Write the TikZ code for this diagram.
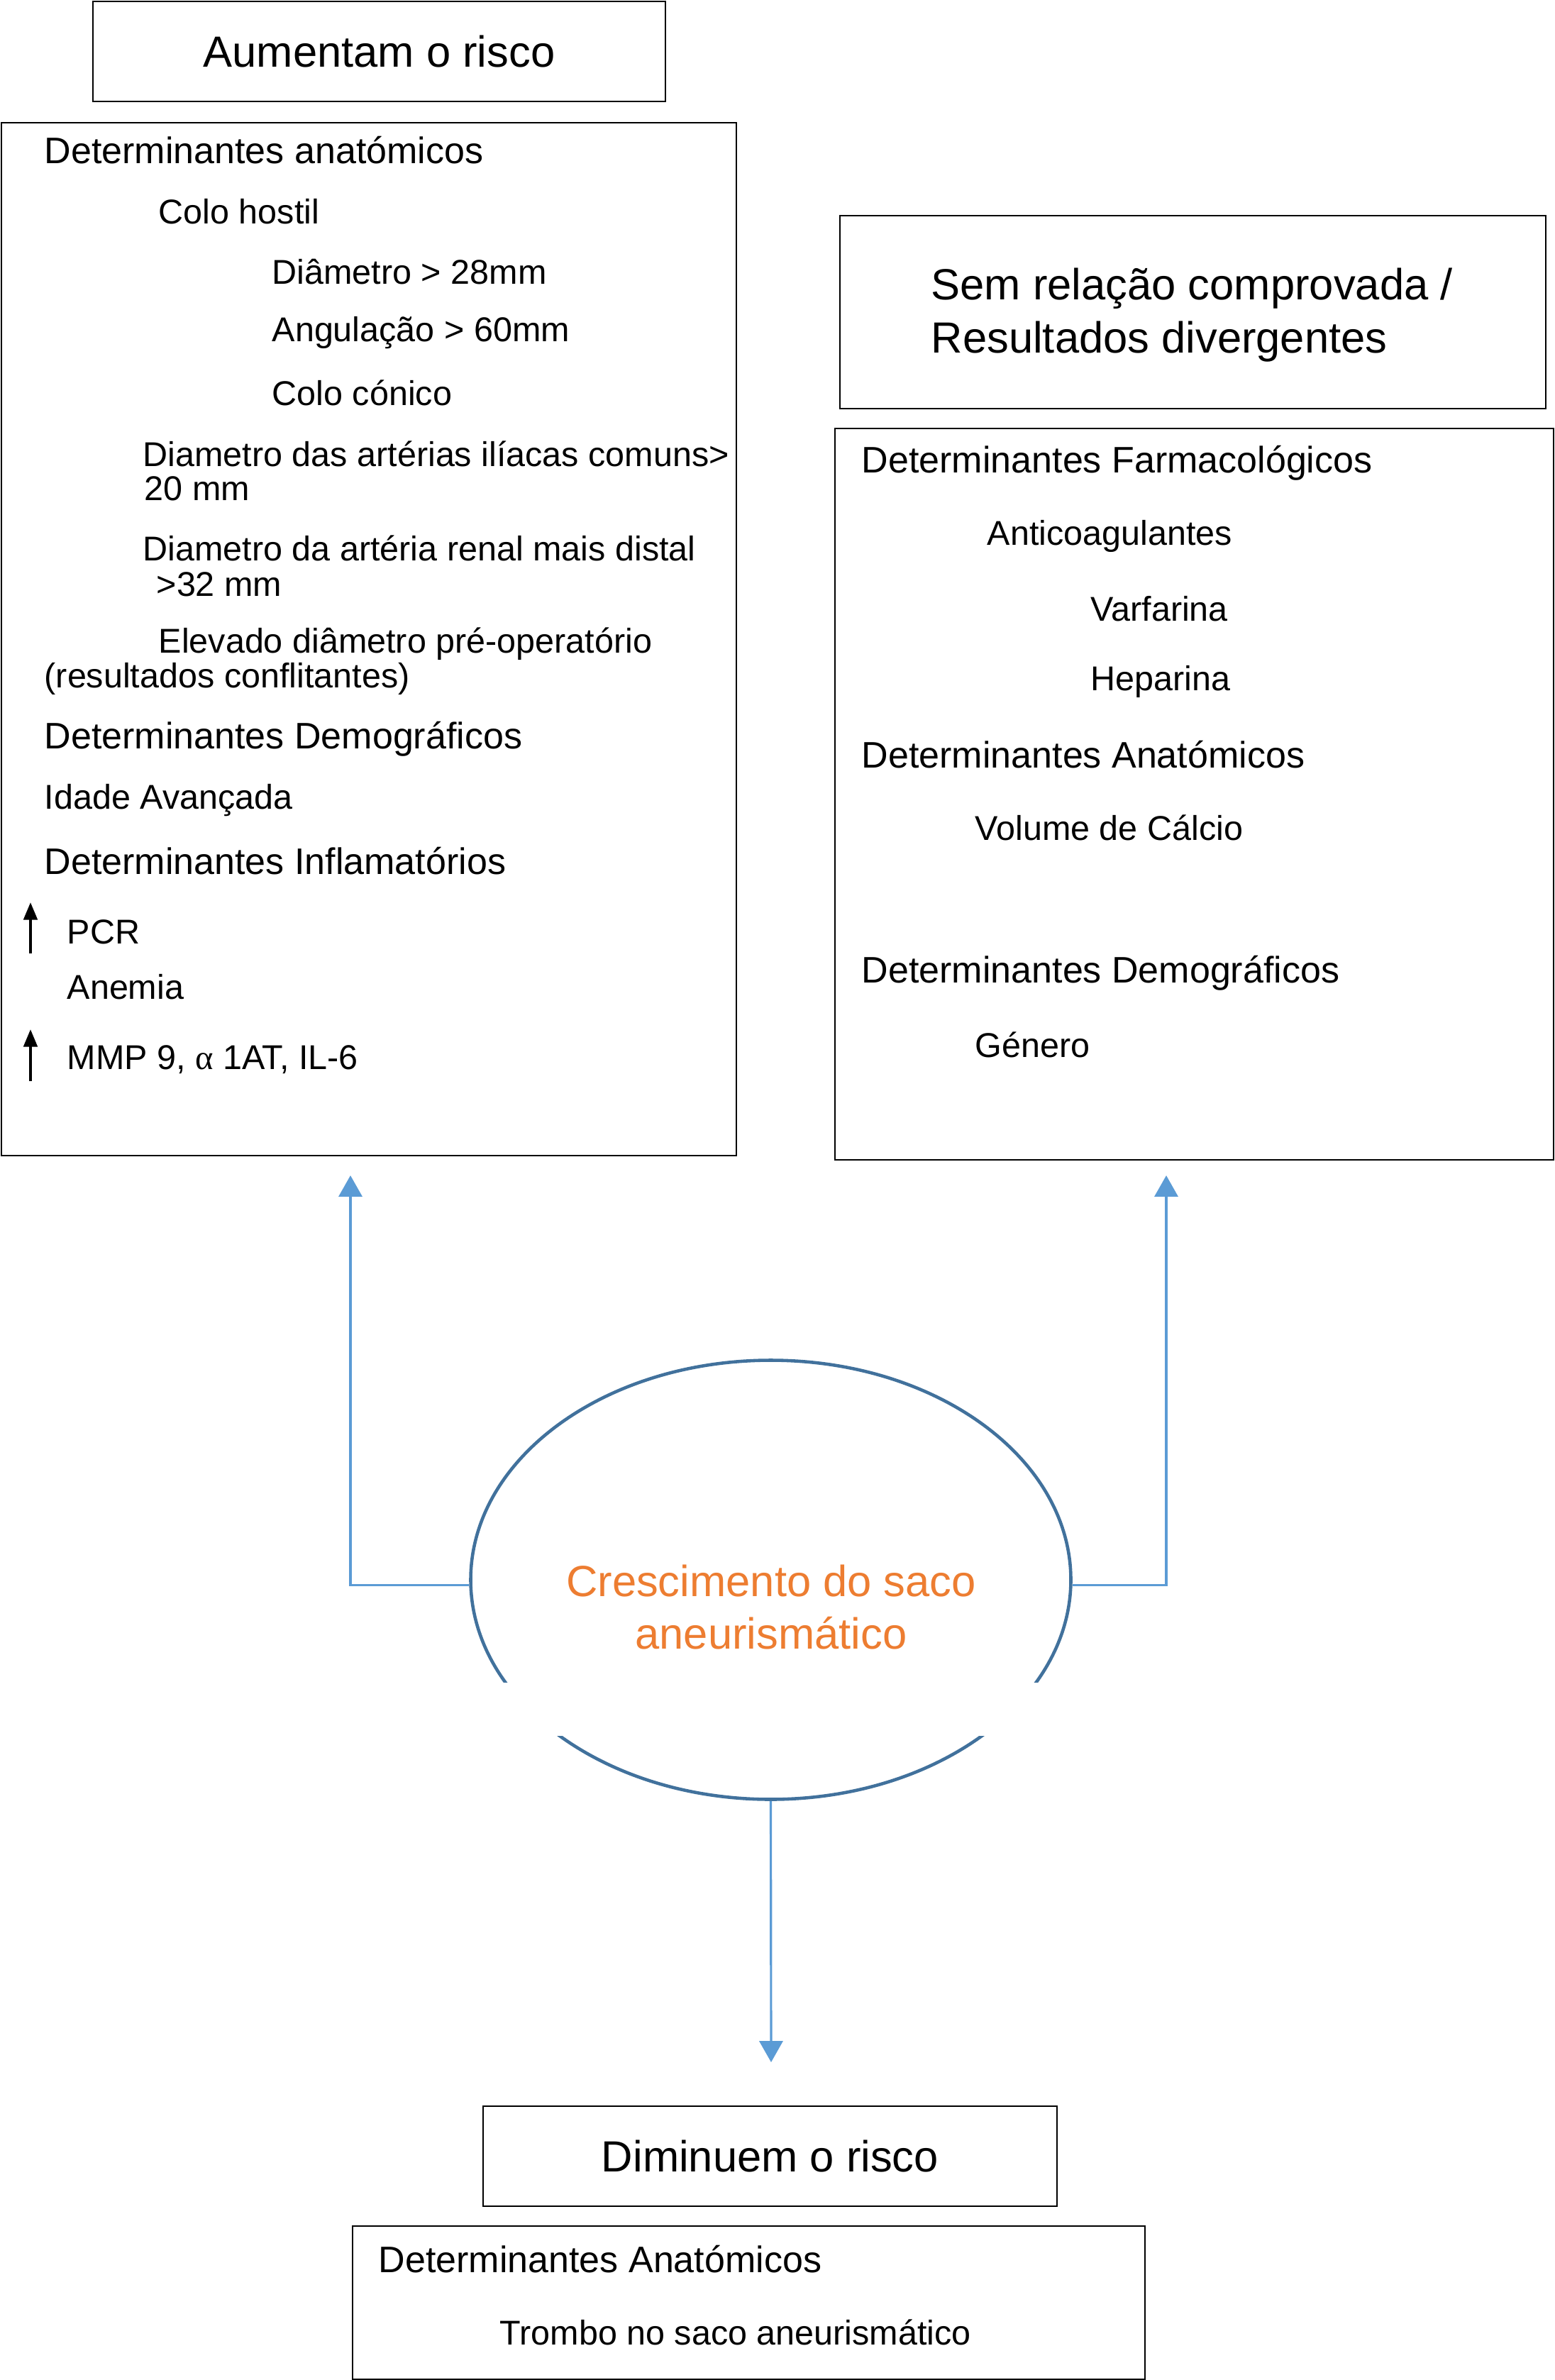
\documentclass[tikz,border=0pt]{standalone}
\usepackage{fontspec}
\setmainfont{Liberation Sans}
\newfontfamily\greekfont{Liberation Serif}
\usepackage{tikz}
\usetikzlibrary{arrows.meta}
\usetikzlibrary{shapes.geometric}
\definecolor{linkblue}{HTML}{5B9BD5}
\definecolor{sacblue}{HTML}{41719C}
\definecolor{sacorange}{HTML}{ED7D31}
\newcommand{\headsize}{\fontsize{14.8}{17}\selectfont}
\newcommand{\entrysize}{\fontsize{13.8}{16}\selectfont}
\newcommand{\titlesize}{\fontsize{17.5}{21.3}\selectfont}
\tikzset{
	riskdiag/.style = {
		x=1cm, y=-1cm, >={Triangle[length=8.5pt,width=9.4pt]},
	},
	riskbox/.style = {draw, line width=0.7pt, inner sep=0pt},
	hdline/.style = {anchor=west, inner sep=0pt, font=\headsize},
	entry/.style = {anchor=west, inner sep=0pt, font=\entrysize},
	link/.style = {draw=linkblue, line width=0.9pt, ->},
	upmark/.style = {line width=1.1pt, -{Triangle[length=7pt,width=5.5pt]}},
}

\begin{document}
\begin{tikzpicture}[riskdiag]
		\useasboundingbox (0,0) rectangle (21.92,33.55);
		
		% caixas
		\node[riskbox, minimum width=8.07cm, minimum height=1.41cm, font=\titlesize] (up) at (5.345,0.725) {Aumentam o risco};
		\node[riskbox, minimum width=10.36cm, minimum height=14.56cm] (upbox) at (5.2,9.01) {};
		\node[riskbox, minimum width=9.95cm, minimum height=2.72cm] (none) at (16.815,4.4) {};
		\node[riskbox, minimum width=10.13cm, minimum height=10.31cm] (nonebox) at (16.835,11.195) {};
		\node[riskbox, minimum width=8.09cm, minimum height=1.41cm, font=\titlesize] (down) at (10.855,30.395) {Diminuem o risco};
		\node[riskbox, minimum width=11.17cm, minimum height=2.16cm] (downbox) at (10.555,32.46) {};
		
		\node[anchor=west, inner sep=0pt, font=\titlesize] (none1) at (13.12,4.07) {Sem relação comprovada /};
		\node[anchor=west, inner sep=0pt, font=\titlesize] (none2) at (13.12,4.82) {Resultados divergentes};
		
		% aumentam o risco
		\node[hdline] (u1) at (0.62,2.12) {Determinantes anatómicos};
		\node[entry] (u2) at (2.23,2.98) {Colo hostil};
		\node[entry] (u3) at (3.83,3.83) {Diâmetro > 28mm};
		\node[entry] (u4) at (3.83,4.69) {Angulação > 60mm};
		\node[entry] (u5) at (3.83,5.54) {Colo cónico};
		\node[entry] (u6) at (2.01,6.40) {Diametro das artérias ilíacas comuns>};
		\node[entry] (u7) at (2.03,6.89) {20 mm};
		\node[entry] (u8) at (2.01,7.73) {Diametro da artéria renal mais distal};
		\node[entry] (u9) at (2.20,8.24) {>32 mm};
		\node[entry] (u10) at (2.23,9.08) {Elevado diâmetro pré-operatório};
		\node[entry] (u11) at (0.62,9.57) {(resultados conflitantes)};
		\node[hdline] (u12) at (0.62,10.42) {Determinantes Demográficos};
		\node[entry] (u13) at (0.62,11.28) {Idade Avançada};
		\node[hdline] (u14) at (0.62,12.14) {Determinantes Inflamatórios};
		\node[entry] (u15) at (0.94,13.14) {PCR};
		\node[entry] (u16) at (0.94,13.91) {Anemia};
		\node[entry] (u17) at (0.94,14.94) {MMP 9, {\greekfont α} 1AT, IL-6};
		\draw[upmark] (0.43,13.44) -- (0.43,12.72);
		\draw[upmark] (0.43,15.24) -- (0.43,14.51);
		
		% sem relacao
		\node[hdline] (n1) at (12.14,6.53) {Determinantes Farmacológicos};
		\node[entry] (n2) at (13.91,7.56) {Anticoagulantes};
		\node[entry] (n3) at (15.37,8.58) {Varfarina};
		\node[entry] (n4) at (15.37,9.61) {Heparina};
		\node[hdline] (n5) at (12.14,10.64) {Determinantes Anatómicos};
		\node[entry] (n6) at (13.74,11.67) {Volume de Cálcio};
		\node[hdline] (n7) at (12.14,13.72) {Determinantes Demográficos};
		\node[entry] (n8) at (13.74,14.73) {Género};
		
		% diminuem o risco
		\node[hdline] (d1) at (5.33,31.85) {Determinantes Anatómicos};
		\node[entry] (d2) at (7.04,32.88) {Trombo no saco aneurismático};
		
		% saco
		\node[ellipse, draw=sacblue, line width=1.3pt, minimum width=8.46cm, minimum height=6.19cm, inner sep=0pt] (sac) at (10.865,22.27) {};
		\fill[white] (6,23.72) rectangle (16,24.47);
		\node[font=\titlesize, text=sacorange, align=center] (sactext) at (10.87,22.655) {Crescimento do saco\\aneurismático};
		
		\coordinate (upend) at (4.94,16.57);
		\coordinate (noneend) at (16.44,16.57);
		\coordinate (downend) at (10.87,29.07);
		\draw[link] (sac.181) -| (upend);
		\draw[link] (sac.359) -| (noneend);
		\draw[link] (sac.south) -- (downend);
	\end{tikzpicture}
\end{document}
